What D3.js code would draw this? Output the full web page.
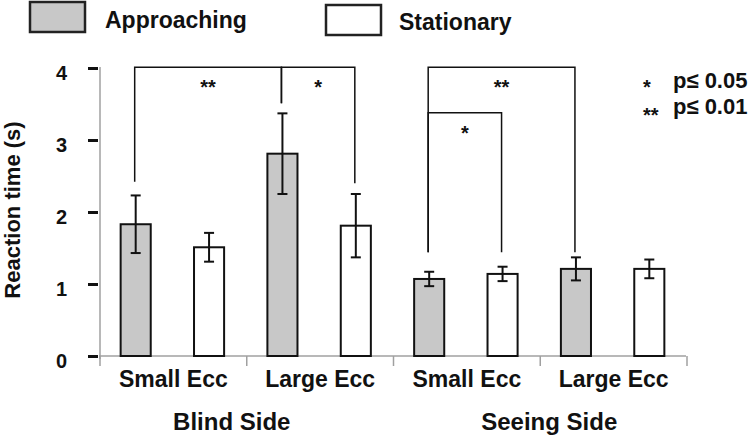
<!DOCTYPE html>
<html><head><meta charset="utf-8">
<script src="https://cdn.jsdelivr.net/npm/d3@7/dist/d3.min.js"></script>
<style>
body{margin:0;background:#fff;}
text{font-family:"Liberation Sans",Arial,sans-serif;font-weight:bold;fill:#111;}
</style></head>
<body><svg id="chart" width="752" height="435"></svg>
<script>
const categories = ["Small Ecc", "Large Ecc", "Small Ecc", "Large Ecc"];
const sides = ["Blind Side", "Seeing Side"];
const series = ["Approaching", "Stationary"];
const approachingMean = [1.83, 2.81, 1.07, 1.21];
const approachingErr = [0.40, 0.56, 0.10, 0.16];
const stationaryMean = [1.51, 1.81, 1.14, 1.21];
const stationaryErr = [0.20, 0.44, 0.10, 0.13];
const yTicks = [0, 1, 2, 3, 4];
const yLabel = "Reaction time (s)";
// significance brackets: bars given as [category index, series index]
const brackets = [
  {a: [0, 0], b: [1, 0], top: 4.01, legA: 2.42, legB: 3.51, label: "**"},
  {a: [1, 0], b: [1, 1], top: 4.01, legA: 3.51, legB: 2.40, label: "*"},
  {a: [2, 0], b: [3, 0], top: 4.01, legA: 1.44, legB: 1.44, label: "**"},
  {a: [2, 0], b: [2, 1], top: 3.38, legA: 1.44, legB: 1.44, label: "*"}
];
const sigKey = [{mark: "*", text: "p\u2264 0.05"}, {mark: "**", text: "p\u2264 0.01"}];

const colors = {Approaching: "#c8c8c8", Stationary: "#ffffff"};
const svg = d3.select("#chart");

const x0 = d3.scaleBand().domain(d3.range(categories.length)).range([99, 686]).padding(0);
const x1 = d3.scaleBand().domain(series).range([0, x0.bandwidth()]).paddingInner(0.59).paddingOuter(0.295);
const y = d3.scaleLinear().domain([0, 4]).range([356, 68]);

const data = [];
categories.forEach((c, i) => {
  data.push({cat: i, s: "Approaching", v: approachingMean[i], e: approachingErr[i]});
  data.push({cat: i, s: "Stationary", v: stationaryMean[i], e: stationaryErr[i]});
});
const cx = (cat, sIdx) => x0(cat) + x1(series[sIdx]) + x1.bandwidth() / 2;

// Y axis
const yAxis = svg.append("g").attr("transform", "translate(100,0)")
  .call(d3.axisLeft(y).tickValues(yTicks).tickSize(12).tickPadding(21).tickFormat(d3.format("d")));
yAxis.select(".domain").attr("stroke", "#a0a0a0").attr("stroke-width", 1.5)
  .attr("d", `M0,${y(4) - 1}V${y(0) + 3}`);
yAxis.selectAll(".tick line").attr("stroke", "#111").attr("stroke-width", 3).attr("x2", -12).attr("x1", -2);
yAxis.selectAll(".tick text").attr("font-size", 20).attr("font-family", "Liberation Sans, Arial, sans-serif")
  .attr("font-weight", "bold").attr("fill", "#111").attr("y", 5);

svg.append("text").attr("transform", "translate(20,210) rotate(-90)")
  .attr("text-anchor", "middle").attr("font-size", 22).text(yLabel);

// X axis
const xAxisY = y(0);
svg.append("line").attr("x1", x0.range()[0]).attr("x2", x0.range()[1])
  .attr("y1", xAxisY).attr("y2", xAxisY).attr("stroke", "#a0a0a0").attr("stroke-width", 1.5);
const bounds = d3.range(categories.length).map(i => x0(i)).concat([x0.range()[1]]);
svg.selectAll(".xsep").data(bounds).join("line")
  .attr("x1", d => d + 1).attr("x2", d => d + 1)
  .attr("y1", xAxisY).attr("y2", xAxisY + 10).attr("stroke", "#a0a0a0").attr("stroke-width", 1.5);
svg.selectAll(".xlab").data(categories).join("text")
  .attr("x", (d, i) => x0(i) + x0.bandwidth() / 2 + 1).attr("y", 387)
  .attr("text-anchor", "middle").attr("font-size", 23).text(d => d);
const sideOffset = [-14, 10];
svg.selectAll(".side").data(sides).join("text")
  .attr("x", (d, i) => (x0(i * 2) + x0(i * 2 + 1) + x0.bandwidth()) / 2 + sideOffset[i])
  .attr("y", 430).attr("text-anchor", "middle").attr("font-size", 24).text(d => d);

// Bars
svg.selectAll(".bar").data(data).join("rect")
  .attr("x", d => x0(d.cat) + x1(d.s)).attr("width", x1.bandwidth())
  .attr("y", d => y(d.v)).attr("height", d => y(0) - y(d.v))
  .attr("fill", d => colors[d.s]).attr("stroke", "#111").attr("stroke-width", 2);

// Error bars
const eb = svg.selectAll(".eb").data(data).join("g");
eb.append("line").attr("x1", d => x0(d.cat) + x1(d.s) + x1.bandwidth() / 2)
  .attr("x2", d => x0(d.cat) + x1(d.s) + x1.bandwidth() / 2)
  .attr("y1", d => y(d.v + d.e)).attr("y2", d => y(d.v - d.e));
eb.append("line").attr("x1", d => x0(d.cat) + x1(d.s) + x1.bandwidth() / 2 - 5)
  .attr("x2", d => x0(d.cat) + x1(d.s) + x1.bandwidth() / 2 + 5)
  .attr("y1", d => y(d.v + d.e)).attr("y2", d => y(d.v + d.e));
eb.append("line").attr("x1", d => x0(d.cat) + x1(d.s) + x1.bandwidth() / 2 - 5)
  .attr("x2", d => x0(d.cat) + x1(d.s) + x1.bandwidth() / 2 + 5)
  .attr("y1", d => y(d.v - d.e)).attr("y2", d => y(d.v - d.e));
eb.selectAll("line").attr("stroke", "#111").attr("stroke-width", 2);

// Significance brackets
brackets.forEach(b => {
  const xa = cx(b.a[0], b.a[1]) - 1, xb = cx(b.b[0], b.b[1]) - 1;
  svg.append("path")
    .attr("d", `M${xa},${y(b.legA)}V${y(b.top)}H${xb}V${y(b.legB)}`)
    .attr("fill", "none").attr("stroke", "#111").attr("stroke-width", 1.5);
  svg.append("text").attr("x", (xa + xb) / 2).attr("y", y(b.top) + 27)
    .attr("text-anchor", "middle").attr("font-size", 20).text(b.label);
});

// Significance key
sigKey.forEach((k, i) => {
  svg.append("text").attr("x", 643).attr("y", 94 + i * 28)
    .attr("font-size", 20).text(k.mark);
  svg.append("text").attr("x", 673).attr("y", 88 + i * 26).attr("font-size", 22).text(k.text);
});

// Legend
const legendPos = [{x: 30, y: 2, tx: 105, ty: 28}, {x: 326, y: 5, tx: 399, ty: 30}];
series.forEach((s, i) => {
  const p = legendPos[i];
  svg.append("rect").attr("x", p.x).attr("y", p.y).attr("width", 55).attr("height", 30)
    .attr("fill", colors[s]).attr("stroke", "#222").attr("stroke-width", 2.5);
  svg.append("text").attr("x", p.tx).attr("y", p.ty).attr("font-size", 23).text(s);
});
</script></body></html>
